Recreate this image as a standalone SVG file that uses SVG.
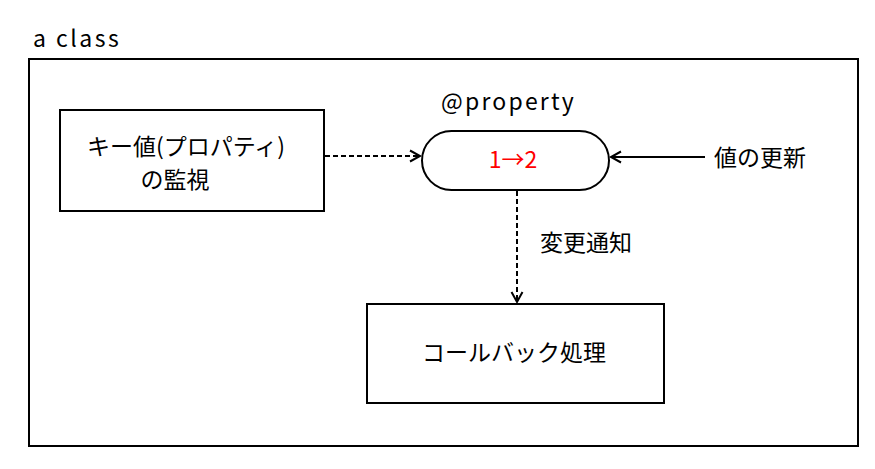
<svg xmlns="http://www.w3.org/2000/svg" width="875" height="469" viewBox="0 0 875 469">
<defs>
<style>
text{font-family:"Noto Sans CJK JP","Noto Sans",sans-serif;fill:#000;font-size:23px}
.box{fill:#fff;stroke:#000;stroke-width:2}
.ln{fill:none;stroke:#000;stroke-width:2}
.dash{stroke-dasharray:5 3}
</style>
<marker id="arr" markerWidth="14" markerHeight="14" refX="11" refY="7" orient="auto" markerUnits="userSpaceOnUse">
<path d="M1,1.5 L11,7 L1,12.5" fill="none" stroke="#000" stroke-width="2"/>
</marker>
</defs>
<rect width="875" height="469" fill="#fff"/>
<g id="frame">
<rect class="box" x="29" y="59" width="829" height="387"/>
<text x="33" y="47" font-size="28" letter-spacing="2.5" font-family="Noto Sans, sans-serif">a class</text>
</g>
<g id="connectors">
<line class="ln dash" x1="325" y1="156" x2="420" y2="156" marker-end="url(#arr)"/>
<line class="ln" x1="705" y1="157" x2="611" y2="157" marker-end="url(#arr)"/>
<line class="ln dash" x1="517" y1="191" x2="517" y2="302" marker-end="url(#arr)"/>
<text x="540" y="251" font-size="24">変更通知</text>
<text x="714" y="166" font-size="24">値の更新</text>
</g>
<g id="watch">
<rect class="box" x="60" y="110" width="264" height="101"/>
<text x="186" y="155" text-anchor="middle" font-size="22">キー値(プロパティ)</text>
<text x="175" y="188" text-anchor="middle" font-size="22">の監視</text>
</g>
<g id="property">
<text x="441" y="110" font-size="26" letter-spacing="2.2" font-family="Noto Sans, sans-serif">@property</text>
<rect class="box" x="422" y="131" width="187" height="59" rx="29.5"/>
<text x="513" y="168" text-anchor="middle" fill="#f00" style="fill:#f00" font-size="28" font-family="Noto Sans, sans-serif">1→2</text>
</g>
<g id="callback">
<rect class="box" x="367" y="304" width="297" height="99"/>
<text x="514" y="361" text-anchor="middle">コールバック処理</text>
</g>
</svg>
